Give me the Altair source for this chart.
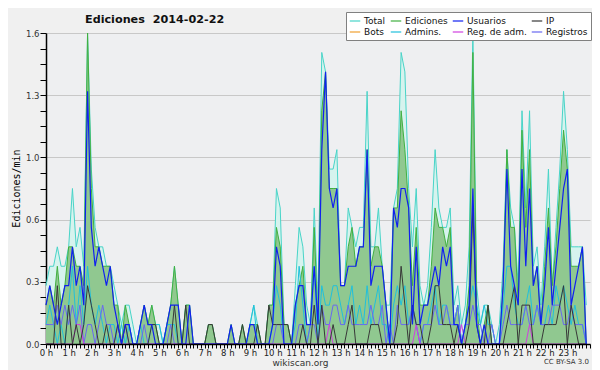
import altair as alt
import pandas as pd

SERIES = ["Total", "Ediciones", "Usuarios", "IP", "Bots", "Admins.", "Reg. de adm.", "Registros"]
COLORS = ["#48d4c8", "#40b040", "#1020f0", "#383838", "#f0a030", "#20c0dc", "#d040e0", "#6868f0"]

# values in edits per 10 minutes (divided by 10 -> edits/min), 6 per hour
total = [
    3, 4, 4, 5, 4, 4,   5, 8, 5, 6, 4, 16,   9, 6, 5, 5, 4, 4,   3, 2, 1, 2, 2, 1,
    0, 1, 2, 1, 2, 1,   1, 0, 1, 2, 4, 2,    0, 2, 2, 0, 0, 0,   0, 1, 1, 0, 0, 0,
    0, 1, 0, 0, 1, 0,   1, 2, 1, 0, 0, 2,    2, 8, 7, 1, 1, 0,   3, 6, 5, 2, 1, 7,
    2, 15, 14, 9, 9, 10, 3, 3, 7, 6, 5, 6,   6, 13, 5, 5, 7, 4,  2, 2, 7, 8, 15, 14,
    8, 5, 8, 3, 2, 3,   6, 10, 7, 6, 6, 7,   2, 3, 1, 2, 5, 16,  3, 1, 2, 2, 1, 0,
    1, 4, 10, 7, 6, 3,  12, 7, 12, 4, 5, 2,  5, 9, 3, 6, 9, 13,  10, 5, 5, 5, 5, 2,
]
ediciones = [
    2, 3, 2, 4, 2, 3,   5, 5, 4, 4, 3, 16,   8, 5, 5, 4, 4, 4,   2, 2, 0, 2, 1, 0,
    0, 1, 2, 1, 2, 1,   0, 0, 1, 2, 4, 2,    0, 2, 2, 0, 0, 0,   0, 1, 1, 0, 0, 0,
    0, 1, 0, 0, 1, 0,   1, 1, 1, 0, 0, 2,    2, 6, 5, 1, 1, 0,   2, 3, 4, 1, 1, 6,
    1, 12, 14, 8, 8, 8, 3, 3, 5, 6, 4, 5,    5, 10, 4, 5, 5, 4,  2, 0, 7, 7, 12, 10,
    7, 3, 6, 2, 2, 2,   4, 7, 6, 6, 5, 6,    1, 2, 0, 1, 3, 15,  2, 0, 1, 2, 0, 0,
    0, 3, 10, 6, 6, 2,  11, 6, 10, 3, 4, 1,  4, 7, 3, 5, 8, 11,  9, 4, 4, 4, 5, 0,
]
usuarios = [
    2, 3, 2, 1, 2, 3,   3, 5, 3, 4, 2, 13,   6, 4, 5, 4, 3, 4,   2, 1, 0, 1, 1, 0,
    0, 1, 2, 1, 1, 0,   0, 0, 1, 2, 2, 2,    0, 0, 2, 0, 0, 0,   0, 0, 0, 0, 0, 0,
    0, 1, 0, 0, 0, 0,   1, 1, 0, 0, 0, 0,    1, 5, 4, 0, 0, 0,   2, 3, 3, 1, 1, 4,
    1, 10, 14, 8, 7, 8, 3, 3, 4, 4, 4, 5,    5, 10, 3, 4, 4, 4,  2, 0, 7, 6, 8, 8,
    7, 1, 5, 1, 2, 2,   3, 4, 3, 5, 4, 5,    1, 1, 0, 1, 2, 8,   1, 0, 1, 0, 0, 0,
    0, 3, 9, 4, 3, 2,   9, 4, 8, 3, 4, 1,    3, 6, 2, 4, 6, 8,   9, 2, 3, 4, 5, 0,
]
ip = [
    0, 0, 0, 3, 0, 0,   2, 0, 1, 0, 1, 3,    2, 1, 0, 0, 1, 0,   0, 1, 0, 1, 0, 0,
    0, 0, 0, 0, 1, 1,   0, 0, 0, 0, 2, 0,    0, 2, 0, 0, 0, 0,   0, 1, 1, 0, 0, 0,
    0, 0, 0, 0, 1, 0,   0, 0, 1, 0, 0, 2,    1, 1, 1, 1, 1, 0,   0, 0, 1, 0, 0, 2,
    0, 2, 0, 0, 1, 0,   0, 0, 1, 2, 0, 0,    0, 0, 1, 1, 1, 0,   0, 0, 0, 1, 4, 2,
    0, 2, 1, 1, 0, 0,   1, 3, 3, 1, 1, 1,    0, 1, 0, 0, 1, 7,   1, 0, 0, 2, 0, 0,
    0, 0, 1, 2, 3, 0,   2, 2, 2, 0, 0, 0,    1, 1, 1, 1, 2, 3,   0, 2, 1, 0, 0, 0,
]
admins = [
    1, 2, 1, 0, 1, 0,   2, 4, 1, 3, 1, 4,    2, 1, 2, 1, 0, 1,   1, 0, 1, 0, 1, 0,
    0, 1, 0, 0, 1, 1,   1, 0, 1, 1, 1, 0,    0, 0, 0, 0, 0, 0,   0, 0, 0, 0, 0, 0,
    0, 0, 0, 0, 0, 0,   1, 2, 0, 0, 0, 0,    1, 3, 2, 0, 0, 0,   1, 4, 2, 0, 1, 4,
    0, 3, 2, 2, 3, 3,   2, 1, 2, 3, 1, 2,    1, 3, 1, 2, 3, 1,   1, 0, 2, 3, 2, 3,
    1, 2, 1, 0, 1, 1,   2, 3, 1, 2, 2, 1,    1, 2, 0, 1, 2, 3,   2, 1, 2, 1, 1, 0,
    0, 2, 4, 4, 2, 1,   1, 2, 3, 1, 2, 1,    1, 2, 1, 3, 2, 3,   2, 1, 2, 1, 1, 0,
]
reg_adm = [
    0, 0, 0, 0, 0, 0,   0, 0, 1, 1, 0, 0,    0, 0, 0, 0, 0, 0,   0, 0, 0, 0, 0, 0,
    0, 0, 0, 0, 0, 0,   0, 0, 0, 0, 0, 0,    0, 0, 0, 0, 0, 0,   0, 0, 0, 0, 0, 0,
    0, 0, 0, 0, 0, 0,   0, 0, 0, 0, 0, 0,    0, 0, 0, 0, 0, 0,   0, 0, 0, 0, 0, 0,
    0, 0, 0, 1, 0, 0,   0, 0, 0, 0, 0, 0,    0, 0, 0, 0, 0, 0,   0, 0, 0, 0, 0, 0,
    0, 0, 1, 0, 0, 0,   0, 0, 0, 0, 0, 0,    0, 0, 1, 0, 0, 0,   0, 0, 0, 0, 0, 0,
    0, 0, 0, 0, 0, 0,   0, 0, 1, 0, 0, 0,    0, 0, 0, 0, 0, 0,   0, 0, 0, 0, 0, 0,
]
registros = [
    1, 1, 1, 2, 1, 2,   1, 2, 1, 2, 0, 1,    1, 0, 1, 2, 1, 1,   0, 1, 0, 1, 0, 0,
    0, 0, 1, 0, 0, 0,   0, 0, 0, 1, 0, 0,    0, 0, 0, 0, 0, 0,   0, 0, 0, 0, 0, 0,
    0, 0, 0, 0, 0, 0,   0, 0, 0, 0, 0, 0,    0, 1, 1, 0, 0, 0,   0, 1, 1, 0, 1, 1,
    0, 2, 1, 1, 2, 2,   1, 1, 2, 1, 1, 1,    1, 1, 2, 1, 1, 2,   0, 1, 0, 2, 1, 1,
    1, 2, 1, 0, 1, 1,   1, 2, 1, 1, 2, 1,    1, 2, 0, 1, 1, 2,   1, 1, 0, 0, 1, 0,
    0, 1, 2, 1, 1, 1,   1, 2, 1, 1, 2, 1,    1, 1, 2, 2, 2, 1,   1, 2, 1, 1, 1, 0,
]

data = {
    "Total": total, "Ediciones": ediciones, "Usuarios": usuarios, "IP": ip,
    "Admins.": admins, "Reg. de adm.": reg_adm, "Registros": registros,
}
rows = []
for name, vals in data.items():
    for i, k in enumerate(vals):
        rows.append({"s": name, "i": i, "v": k / 10})
df = pd.DataFrame(rows)

Y_TICKS = [round(0.08 * k, 2) for k in range(21)]
X_TICKS = list(range(145))

xaxis = alt.Axis(
    values=X_TICKS, labelExpr="datum.value % 6 == 0 && datum.value < 144 ? (datum.value / 6) + ' h' : ''",
    labelOverlap=False, labelFlush=False, grid=False, tickSize=4, tickColor="#000",
    domainColor="#000", domainWidth=1.5, labelFont="DejaVu Sans", labelFontSize=8.5,
    labelColor="#222", labelPadding=0, title="wikiscan.org", titleFont="DejaVu Sans",
    titleFontSize=9, titleFontWeight="normal", titleColor="#333", titleX=254, titleY=21,
    titleBaseline="alphabetic", titleAlign="center", zindex=1,
)
yaxis = alt.Axis(
    values=Y_TICKS,
    labelExpr="round(datum.value * 100) % 32 == 0 ? format(datum.value, '.1f') : ''",
    gridOpacity={"condition": {"test": "round(datum.value * 100) % 32 == 0", "value": 1}, "value": 0},
    gridColor="#c8c8c8", tickSize=6, tickColor="#000", domainColor="#000", domainWidth=1.5,
    labelFont="DejaVu Sans", labelFontSize=8.5, labelColor="#333", labelPadding=1,
    labelOverlap=False, title="Ediciones/min", titleFont="DejaVu Sans Mono", titleFontSize=10,
    titleFontWeight="normal", titleColor="#000", titleX=-27, titleY=155, titleAngle=270,
    titleBaseline="alphabetic", titleAlign="center",
)

color = alt.Color(
    "s:N",
    scale=alt.Scale(domain=SERIES, range=COLORS),
    legend=alt.Legend(
        orient="none", legendX=300, legendY=-21, columns=4, direction="horizontal",
        symbolType="stroke", symbolStrokeWidth=1.2, symbolSize=110, title=None,
        labelFont="DejaVu Sans", labelFontSize=9, labelColor="#111", labelOffset=3,
        fillColor="#ffffff", strokeColor="#808080", padding=3, rowPadding=0, columnPadding=2,
    ),
)

base = alt.Chart(df).encode(
    x=alt.X("i:Q", scale=alt.Scale(domain=[0, 144], nice=False, zero=False), axis=xaxis),
    y=alt.Y("v:Q", scale=alt.Scale(domain=[0, 1.6], nice=False), axis=yaxis),
)

def sel(name):
    return base.transform_filter(alt.datum.s == name)

layers = [
    sel("Total").mark_area(color="#d6f3ee"),
    sel("Total").mark_line(strokeWidth=1).encode(color=color),
    sel("Ediciones").mark_area(color="#90c890"),
    sel("Ediciones").mark_line(strokeWidth=1).encode(color=color),
    sel("Admins.").mark_line(strokeWidth=1).encode(color=color),
    sel("Registros").mark_line(strokeWidth=1).encode(color=color),
    sel("Reg. de adm.").mark_line(strokeWidth=1).encode(color=color),
    sel("IP").mark_line(strokeWidth=1).encode(color=color),
    sel("Usuarios").mark_line(strokeWidth=1.2).encode(color=color),
]

credit = alt.Chart(pd.DataFrame({"t": ["CC BY-SA 3.0"]})).mark_text(
    align="right", baseline="middle", font="DejaVu Sans", fontSize=7, color="#333"
).encode(text="t:N", x=alt.value(543), y=alt.value(329))

chart = alt.layer(*layers, credit).properties(
    width=544, height=311,
    autosize=alt.AutoSizeParams(type="none"),
    padding={"left": 38, "top": 25, "right": 2, "bottom": 30},
    background="#f0f0f0",
    title=alt.TitleParams(
        text="Ediciones \u00a02014-02-22", anchor="start", frame="group", dx=39, dy=35, offset=12,
        baseline="alphabetic", font="DejaVu Sans", fontSize=11.2, fontWeight="bold", color="#111",
    ),
).configure_view(fill="#eeeff1", stroke=None)

chart.save("out.html", embed_options={"renderer": "svg", "actions": False})
